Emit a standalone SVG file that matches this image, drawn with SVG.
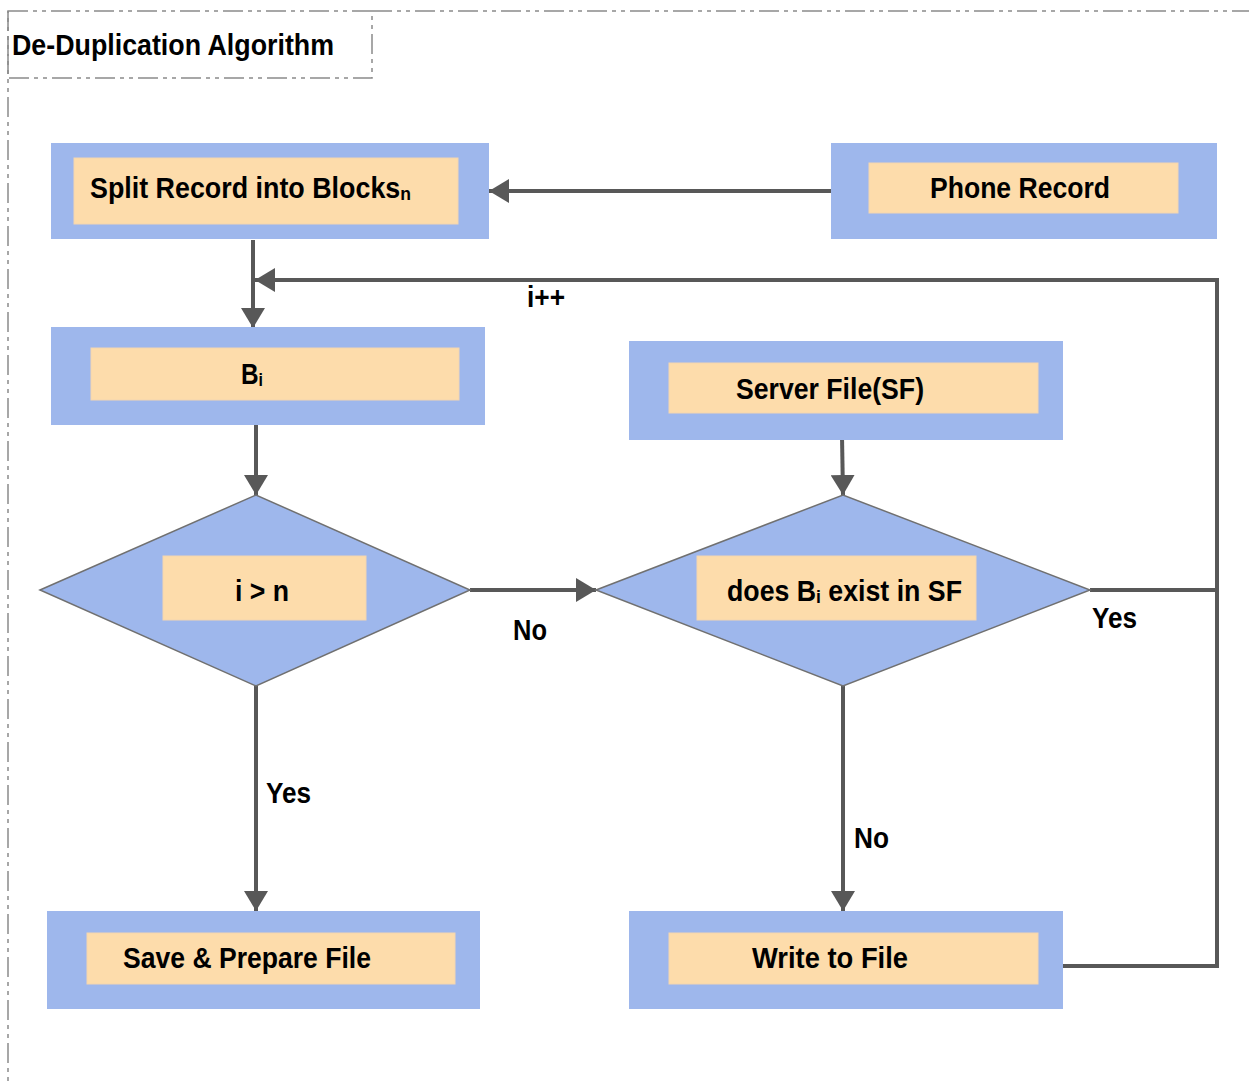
<svg xmlns="http://www.w3.org/2000/svg" width="1249" height="1085" viewBox="0 0 1249 1085">
<style>
.frame{fill:none;stroke:#8a8a8a;stroke-width:1.5;stroke-dasharray:20 5 4 5 4 5}
.outer{fill:#9eb7ec}
.inner{fill:#fddcab;stroke:#f3d6b0;stroke-width:1}
.dia{fill:#9eb7ec;stroke:#707070;stroke-width:1.5}
.t{font-family:"Liberation Sans Narrow","Liberation Sans",Arial,sans-serif;font-weight:bold;font-size:29px;fill:#000}
.s{font-size:19px}
.c{fill:none;stroke:#585858;stroke-width:4}
</style>
<defs>
<marker id="ah" markerUnits="userSpaceOnUse" markerWidth="22" markerHeight="24" refX="20" refY="12" orient="auto">
<path d="M0,0 L20,12 L0,24 z" fill="#585858"/>
</marker>
</defs>
<rect width="1249" height="1085" fill="#fff"/>
<g id="frame">
<path class="frame" d="M372,11 H1249"/>
<path class="frame" d="M8,11 V1085"/>
<rect class="frame" x="8" y="11" width="364" height="67"/>
<text class="t" x="12" y="55" font-size="31" textLength="322" lengthAdjust="spacingAndGlyphs">De-Duplication Algorithm</text>
</g>
<g id="connectors">
<path class="c" d="M831,191 H489" marker-end="url(#ah)"/>
<path class="c" d="M253,240 V328" marker-end="url(#ah)"/>
<path class="c" d="M1063,966 H1217 V280 H255" marker-end="url(#ah)"/>
<path class="c" d="M256,425 V495" marker-end="url(#ah)"/>
<path class="c" d="M470,590 H596" marker-end="url(#ah)"/>
<path class="c" d="M842,436 L843,495" marker-end="url(#ah)"/>
<path class="c" d="M1090,590 H1217"/>
<path class="c" d="M256,686 V911" marker-end="url(#ah)"/>
<path class="c" d="M843,686 V911" marker-end="url(#ah)"/>
<text class="t" x="527" y="307" textLength="38" lengthAdjust="spacingAndGlyphs">i++</text>
<text class="t" x="513" y="640" textLength="34" lengthAdjust="spacingAndGlyphs">No</text>
<text class="t" x="1092" y="628" textLength="45" lengthAdjust="spacingAndGlyphs">Yes</text>
<text class="t" x="266" y="803" textLength="45" lengthAdjust="spacingAndGlyphs">Yes</text>
<text class="t" x="854" y="848" textLength="35" lengthAdjust="spacingAndGlyphs">No</text>
</g>
<g id="split">
<rect class="outer" x="51" y="143" width="438" height="96"/>
<rect class="inner" x="74" y="158" width="384" height="66"/>
<text class="t" x="90" y="198" textLength="321" lengthAdjust="spacingAndGlyphs">Split Record into Blocks<tspan class="s" dy="2">n</tspan></text>
</g>
<g id="phone">
<rect class="outer" x="831" y="143" width="386" height="96"/>
<rect class="inner" x="869" y="163" width="309" height="50"/>
<text class="t" x="930" y="198" textLength="180" lengthAdjust="spacingAndGlyphs">Phone Record</text>
</g>
<g id="bi">
<rect class="outer" x="51" y="327" width="434" height="98"/>
<rect class="inner" x="91" y="348" width="368" height="52"/>
<text class="t" x="241" y="384" textLength="22" lengthAdjust="spacingAndGlyphs">B<tspan class="s" dy="2">i</tspan></text>
</g>
<g id="server">
<rect class="outer" x="629" y="341" width="434" height="99"/>
<rect class="inner" x="669" y="363" width="369" height="50"/>
<text class="t" x="736" y="399" textLength="188" lengthAdjust="spacingAndGlyphs">Server File(SF)</text>
</g>
<g id="cond1">
<polygon class="dia" points="40,590 256,495 470,590 256,686"/>
<rect class="inner" x="163" y="556" width="203" height="64"/>
<text class="t" x="235" y="601" textLength="54" lengthAdjust="spacingAndGlyphs">i &gt; n</text>
</g>
<g id="cond2">
<polygon class="dia" points="596,590 843,495 1090,590 843,686"/>
<rect class="inner" x="697" y="556" width="279" height="64"/>
<text class="t" x="727" y="601" textLength="235" lengthAdjust="spacingAndGlyphs">does B<tspan class="s" dy="2">i</tspan><tspan dy="-2"> exist in SF</tspan></text>
</g>
<g id="save">
<rect class="outer" x="47" y="911" width="433" height="98"/>
<rect class="inner" x="87" y="933" width="368" height="51"/>
<text class="t" x="123" y="968" textLength="248" lengthAdjust="spacingAndGlyphs">Save &amp; Prepare File</text>
</g>
<g id="write">
<rect class="outer" x="629" y="911" width="434" height="98"/>
<rect class="inner" x="669" y="933" width="369" height="51"/>
<text class="t" x="752" y="968" textLength="156" lengthAdjust="spacingAndGlyphs">Write to File</text>
</g>
</svg>
